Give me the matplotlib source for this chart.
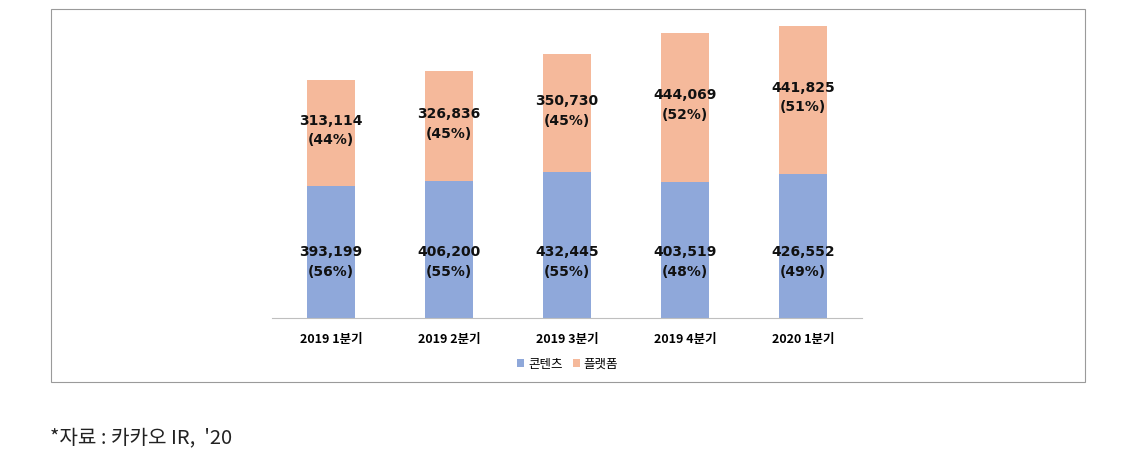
import matplotlib.pyplot as plt
import numpy as np
from matplotlib.patches import Rectangle

plt.rcParams["font.family"] = ["Noto Sans CJK KR", "DejaVu Sans"]

quarters = ["2019 1분기", "2019 2분기", "2019 3분기", "2019 4분기", "2020 1분기"]
content = [393199, 406200, 432445, 403519, 426552]
platform = [313114, 326836, 350730, 444069, 441825]
content_pct = [56, 55, 55, 48, 49]
platform_pct = [44, 45, 45, 52, 51]

blue = "#8FA8DA"
orange = "#F5B99B"


def main():
    fig = plt.figure(figsize=(11.35, 4.64), dpi=100)

    # outer frame around chart
    frame = Rectangle((0.0449, 0.1746), 0.911, 0.804, transform=fig.transFigure,
                      fill=False, edgecolor="#9a9a9a", linewidth=0.8)
    fig.patches.append(frame)

    ax = fig.add_axes([0.2396, 0.3125, 0.5198, 0.653])
    x = np.arange(len(quarters))
    c = np.array(content)
    p = np.array(platform)

    ax.bar(x, c, width=0.4, color=blue, label="콘텐츠")
    ax.bar(x, p, bottom=c, width=0.4, color=orange, label="플랫폼")

    lbl = dict(ha="center", va="center", fontsize=10, fontweight="bold", family="DejaVu Sans",
               linespacing=1.5, color="#111111")
    for i in range(len(quarters)):
        ax.text(x[i], 170000, f"{content[i]:,}\n({content_pct[i]}%)", **lbl)
        ax.text(x[i], c[i] + p[i] / 2 + 10000, f"{platform[i]:,}\n({platform_pct[i]}%)", **lbl)

    ax.set_xlim(-0.5, len(quarters) - 0.5)
    ax.set_ylim(0, 900000)
    ax.set_yticks([])
    ax.set_xticks(x)
    ax.set_xticklabels(quarters, fontsize=9, fontweight="bold")
    ax.tick_params(axis="x", length=0, pad=10)
    for s in ["top", "right", "left"]:
        ax.spines[s].set_visible(False)
    ax.spines["bottom"].set_color("#bfbfbf")

    fig.legend(loc="center", bbox_to_anchor=(0.5, 0.214), ncol=2, frameon=False,
               fontsize=9, handlelength=0.6, handleheight=0.6, handletextpad=0.3,
               columnspacing=0.8)

    fig.text(0.044, 0.045, "*자료 : 카카오 IR,  '20", fontsize=14.5, color="#222222",
             fontweight="light")

    fig.savefig("out.png", dpi=100)


if __name__ == "__main__":
    main()
